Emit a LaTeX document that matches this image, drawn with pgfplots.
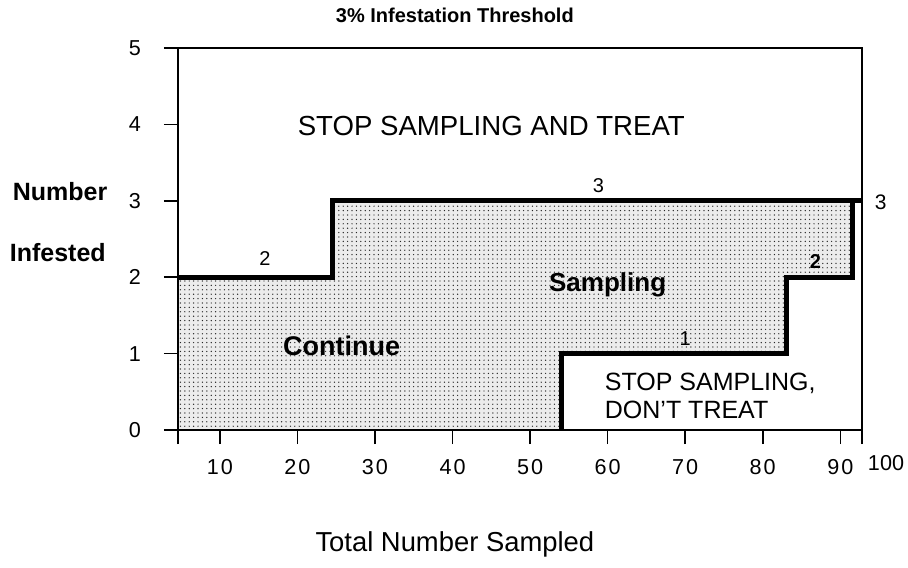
\documentclass[border=0pt]{standalone}
\usepackage{fontspec}
\setmainfont{Liberation Sans}
\usepackage{pgfplots}
\pgfplotsset{compat=1.18}
\usetikzlibrary{patterns.meta}
\begin{document}
\begin{tikzpicture}
\useasboundingbox (-89pt,-68.5pt) rectangle (365pt,215pt);
\begin{axis}[
 at={(0,0)}, anchor=south west,
 scale only axis, width=342pt, height=191pt,
 xmin=4.6, xmax=92.8, ymin=0, ymax=5,
 xtick={4.6,10,20,30,40,50,60,70,80,90},
 xticklabels={,1\kern1pt0,2\kern1pt0,3\kern1pt0,4\kern1pt0,5\kern1pt0,6\kern1pt0,7\kern1pt0,8\kern1pt0,9\kern1pt0},
 extra x ticks={92.8}, extra x tick labels={100},
 extra x tick style={xticklabel style={xshift=12pt,yshift=2pt}},
 ytick={0,1,2,3,4,5},
 xtick pos=left, ytick pos=left,
 tick align=outside, major tick length=7pt,
 tick style={black, line width=0.8pt},
 axis line style={line width=0.9pt},
 ticklabel style={font=\fontsize{10.8}{12}\selectfont},
 /pgf/number format/assume math mode=true,
 xticklabel style={yshift=-4pt},
 yticklabel style={xshift=-8pt},
 clip=false,
 axis on top,
]
\addplot[draw=none, fill=gray!15] coordinates {(4.6,0)(4.6,2)(24.5,2)(24.5,3)(91.6,3)(91.6,2)(83,2)(83,1)(54,1)(54,0)} -- cycle;
\addplot[draw=none, pattern={Dots[distance=2.2pt, radius=0.35pt]}, pattern color=black!85] coordinates {(4.6,0)(4.6,2)(24.5,2)(24.5,3)(91.6,3)(91.6,2)(83,2)(83,1)(54,1)(54,0)} -- cycle;
\addplot[black, line width=2.5pt] coordinates {(4.6,2)(24.5,2)(24.5,3)(92.8,3)};
\addplot[black, line width=2.5pt] coordinates {(91.6,3)(91.6,2)(83,2)(83,1)(54,1)(54,0)};

\node[font=\fontsize{13.8}{15}\selectfont] at (axis cs:45,3.98) {STOP SAMPLING AND TREAT};
\node[font=\fontsize{12.5}{14}\selectfont, align=left, anchor=west, inner sep=0pt] at (axis cs:59.6,0.45) {STOP SAMPLING,\\ DON'T TREAT};
\node[font=\fontsize{10}{12}\selectfont] at (axis cs:15.8,2.25) {2};
\node[font=\fontsize{10}{12}\selectfont] at (axis cs:58.8,3.2) {3};
\node[font=\bfseries\fontsize{10}{12}\selectfont] at (axis cs:86.8,2.2) {2};
\node[font=\fontsize{10}{12}\selectfont] at (axis cs:70,1.2) {1};
\node[font=\fontsize{10.5}{12}\selectfont] at (axis cs:95.2,2.98) {3};
\node[font=\bfseries\fontsize{13}{15}\selectfont] at (axis cs:60,1.9) {Sampling};
\node[font=\bfseries\fontsize{13.5}{15}\selectfont] at (axis cs:25.7,1.1) {Continue};
\node[font=\bfseries\fontsize{12.5}{14}\selectfont] at (axis cs:-10.6,3.12) {Number};
\node[font=\bfseries\fontsize{12.5}{14}\selectfont] at (axis cs:-10.9,2.32) {Infested};
\node[font=\bfseries\fontsize{10}{12}\selectfont] at (axis cs:40.3,5.43) {3\% Infestation Threshold};
\node[font=\fontsize{13.7}{16}\selectfont] at (axis cs:40.3,-1.5) {Total Number Sampled};
\end{axis}
\end{tikzpicture}
\end{document}
